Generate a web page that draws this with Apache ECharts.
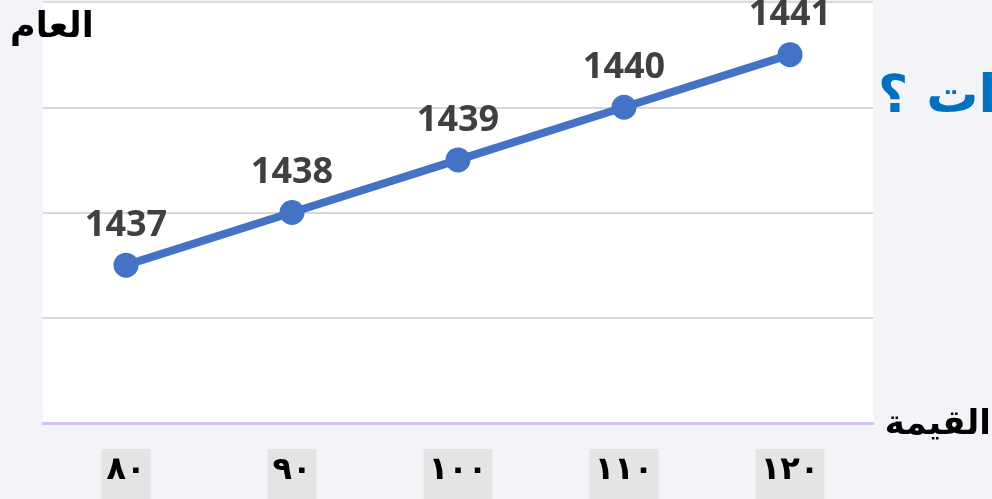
<!DOCTYPE html>
<html>
<head>
<meta charset="utf-8">
<script src="https://cdn.jsdelivr.net/npm/echarts@6/dist/echarts.min.js"></script>
<style>
  html, body { margin: 0; padding: 0; background: #f2f4f7; overflow: hidden; }
  #main { width: 992px; height: 499px; }
</style>
</head>
<body>
<div id="main"></div>
<script>
// القيمة على المحور الأفقي
var categories = ['٨٠', '٩٠', '١٠٠', '١١٠', '١٢٠'];
// العام الهجري
var years = [1437, 1438, 1439, 1440, 1441];
var yMin = 1434, yMax = 1442, yStep = 2;

var chart = echarts.init(document.getElementById('main'));

chart.setOption({
  backgroundColor: '#f2f4f7',
  animation: false,
  grid: {
    left: 43,
    right: 119,
    top: 2,
    bottom: 76,
    outerBoundsMode: 'none',
    containLabel: false,
    show: true,
    backgroundColor: '#ffffff',
    borderWidth: 0
  },
  xAxis: {
    type: 'category',
    data: categories,
    boundaryGap: true,
    axisTick: { show: false },
    axisLine: { lineStyle: { color: '#d3c2f3', width: 3 } },
    axisLabel: {
      margin: 26,
      fontFamily: 'DejaVu Sans',
      fontWeight: 'bold',
      fontSize: 32,
      color: '#000',
      backgroundColor: '#e4e4e4',
      padding: [6, 5, 20, 5]
    }
  },
  yAxis: {
    type: 'value',
    min: yMin,
    max: yMax,
    interval: yStep,
    axisLabel: { show: false },
    axisLine: { show: false },
    axisTick: { show: false },
    splitLine: { lineStyle: { color: '#d9d9d9', width: 2 } }
  },
  series: [{
    type: 'line',
    data: years,
    symbol: 'circle',
    symbolSize: 25,
    lineStyle: { color: '#4472c4', width: 8 },
    itemStyle: { color: '#4472c4' },
    label: {
      show: true,
      position: 'top',
      distance: 9,
      fontFamily: 'Open Sans',
      fontWeight: 'bold',
      fontSize: 36,
      color: '#404040'
    }
  }],
  graphic: [
    {
      type: 'text',
      left: 10,
      top: 10,
      style: {
        text: 'العام',
        font: 'bold 35px "DejaVu Sans"',
        fill: '#000'
      }
    },
    {
      type: 'text',
      right: 1,
      top: 408,
      style: {
        text: 'القيمة',
        font: 'bold 34px "DejaVu Sans"',
        fill: '#000'
      }
    },
    {
      type: 'text',
      left: 878,
      top: 72,
      style: {
        text: 'ات ؟',
        font: 'bold 52px "DejaVu Sans"',
        fill: '#0070c0'
      }
    }
  ]
});
</script>
</body>
</html>
